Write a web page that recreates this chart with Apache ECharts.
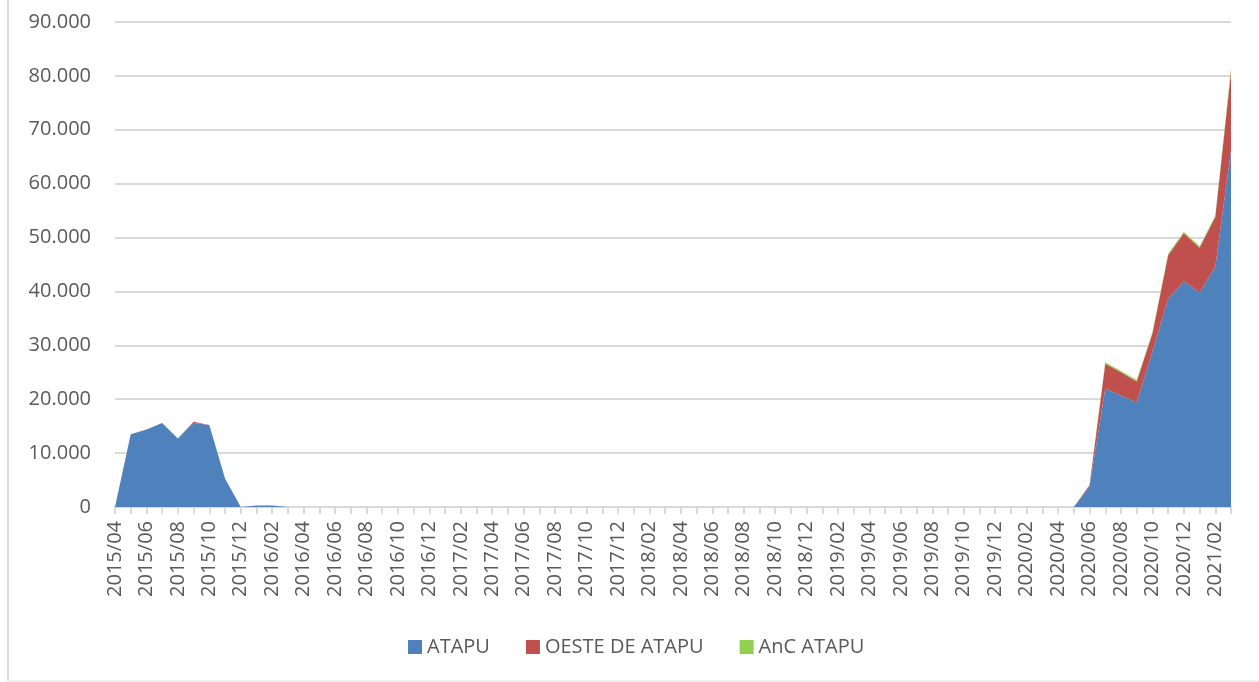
<!DOCTYPE html>
<html lang="pt">
  <head>
    <meta charset="UTF-8" />
    <title>ATAPU</title>
    <script src="https://cdn.jsdelivr.net/npm/echarts@6/dist/echarts.min.js"></script>
    <style>
      html, body { margin: 0; padding: 0; background: #fff; }
    </style>
  </head>
  <body>
    <div id="chart" style="width: 1259px; height: 682px"></div>
    <script>
      // meses 2015/04 .. 2021/03
      const months = [
        '2015/04','2015/05','2015/06','2015/07','2015/08','2015/09','2015/10','2015/11','2015/12',
        '2016/01','2016/02','2016/03','2016/04','2016/05','2016/06','2016/07','2016/08','2016/09','2016/10','2016/11','2016/12',
        '2017/01','2017/02','2017/03','2017/04','2017/05','2017/06','2017/07','2017/08','2017/09','2017/10','2017/11','2017/12',
        '2018/01','2018/02','2018/03','2018/04','2018/05','2018/06','2018/07','2018/08','2018/09','2018/10','2018/11','2018/12',
        '2019/01','2019/02','2019/03','2019/04','2019/05','2019/06','2019/07','2019/08','2019/09','2019/10','2019/11','2019/12',
        '2020/01','2020/02','2020/03','2020/04','2020/05','2020/06','2020/07','2020/08','2020/09','2020/10','2020/11','2020/12',
        '2021/01','2021/02','2021/03'
      ]

      const atapu = [
        0, 13500, 14400, 15600, 12700, 15600, 15200, 5300, 0,
        300, 300, 0, 0, 0, 0, 0, 0, 0, 0, 0, 0,
        0, 0, 0, 0, 0, 0, 0, 0, 0, 0, 0, 0,
        0, 0, 0, 0, 0, 0, 0, 0, 0, 0, 0, 0,
        0, 0, 0, 0, 0, 0, 0, 0, 0, 0, 0, 0,
        0, 0, 0, 0, 0, 3800, 22000, 20700, 19400, 28800, 38600, 41900,
        39800, 44600, 66200
      ]

      const oesteAtapu = [
        0, 0, 0, 0, 0, 200, 0, 0, 0,
        0, 0, 0, 0, 0, 0, 0, 0, 0, 0, 0, 0,
        0, 0, 0, 0, 0, 0, 0, 0, 0, 0, 0, 0,
        0, 0, 0, 0, 0, 0, 0, 0, 0, 0, 0, 0,
        0, 0, 0, 0, 0, 0, 0, 0, 0, 0, 0, 0,
        0, 0, 0, 0, 0, 300, 4600, 4300, 3900, 3400, 8100, 8900,
        8300, 9200, 14600
      ]

      const ancAtapu = [
        0, 0, 0, 0, 0, 0, 0, 0, 0,
        0, 0, 0, 0, 0, 0, 0, 0, 0, 0, 0, 0,
        0, 0, 0, 0, 0, 0, 0, 0, 0, 0, 0, 0,
        0, 0, 0, 0, 0, 0, 0, 0, 0, 0, 0, 0,
        0, 0, 0, 0, 0, 0, 0, 0, 0, 0, 0, 0,
        0, 0, 0, 0, 0, 0, 250, 250, 250, 250, 300, 300,
        300, 300, 600
      ]

      const seriesNames = ['ATAPU', 'OESTE DE ATAPU', 'AnC ATAPU']
      const seriesColors = ['#4F81BD', '#C0504D', '#92D050']
      const seriesData = [atapu, oesteAtapu, ancAtapu]

      const font = '"Open Sans", sans-serif'
      const textColor = '#595959'
      const lineColor = '#d9d9d9'

      const chart = echarts.init(document.getElementById('chart'))

      chart.setOption({
        animation: false,
        textStyle: { fontFamily: font },
        graphic: [
          { type: 'rect', shape: { x: 7, y: 0, width: 2, height: 682 }, style: { fill: lineColor }, silent: true },
          { type: 'rect', shape: { x: 7, y: 680, width: 1252, height: 2 }, style: { fill: '#eeeeee' }, silent: true }
        ],
        grid: { left: 115, right: 28, top: 22, bottom: 175 },
        legend: {
          left: 403,
          top: 632,
          icon: 'rect',
          itemWidth: 14,
          itemHeight: 14,
          itemGap: 36,
          textStyle: { fontFamily: font, fontSize: 20, color: textColor },
          data: seriesNames
        },
        xAxis: {
          type: 'category',
          boundaryGap: false,
          data: months,
          axisLine: { lineStyle: { color: lineColor, width: 2 } },
          axisTick: { interval: 0, length: 7, lineStyle: { color: lineColor, width: 2 } },
          axisLabel: {
            interval: 1,
            rotate: 90,
            margin: 14,
            fontFamily: font,
            fontSize: 20,
            color: textColor
          },
          splitLine: { show: false }
        },
        yAxis: {
          type: 'value',
          min: 0,
          max: 90000,
          interval: 10000,
          axisLine: { show: false },
          axisTick: { show: false },
          axisLabel: {
            margin: 24,
            fontFamily: font,
            fontSize: 20,
            color: textColor,
            formatter: v => (v === 0 ? '0' : v / 1000 + '.000')
          },
          splitLine: { lineStyle: { color: lineColor, width: 2 } }
        },
        series: seriesNames.map((name, i) => ({
          name: name,
          type: 'line',
          stack: 'total',
          data: seriesData[i],
          showSymbol: false,
          symbol: 'none',
          lineStyle: { width: 0, color: seriesColors[i] },
          itemStyle: { color: seriesColors[i] },
          areaStyle: { color: seriesColors[i], opacity: 1 },
          z: 2 + i
        }))
      })
    </script>
  </body>
</html>
